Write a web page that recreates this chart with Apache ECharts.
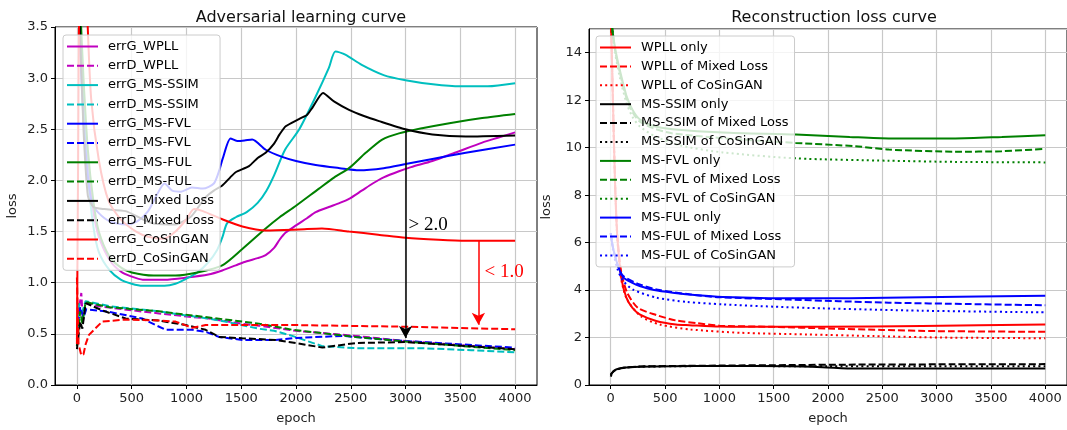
<!DOCTYPE html>
<html>
<head>
<meta charset="utf-8">
<script src="https://cdn.jsdelivr.net/npm/echarts@6/dist/echarts.min.js"></script>
<style>
  html, body { margin: 0; padding: 0; background: #fff; }
  #main { width: 1067px; height: 430px; }
</style>
</head>
<body>
<div id="main"></div>
<script>
// tick labels
var epochTicks = [0, 500, 1000, 1500, 2000, 2500, 3000, 3500, 4000];

// Adversarial learning curve  [epoch, loss]
var errG_WPLL = [[0,4.3],[25,3.6],[60,2.8],[100,2.15],[150,1.7],[200,1.45],[300,1.22],[400,1.11],[500,1.06],[600,1.03],[800,1.03],[1000,1.05],[1200,1.08],[1327,1.12],[1450,1.17],[1550,1.21],[1650,1.24],[1723,1.27],[1800,1.34],[1850,1.42],[1906,1.49],[2000,1.56],[2100,1.63],[2180,1.69],[2300,1.74],[2400,1.78],[2484,1.82],[2600,1.9],[2700,1.97],[2800,2.03],[2940,2.09],[3050,2.13],[3245,2.19],[3450,2.27],[3700,2.37],[3850,2.42],[4000,2.47]];
var errD_WPLL = [[0,0.38],[20,0.75],[40,0.9],[55,0.62],[80,0.8],[200,0.77],[500,0.73],[749,0.7],[1000,0.67],[1205,0.65],[1500,0.6],[1662,0.58],[2000,0.53],[2545,0.48],[3000,0.43],[3500,0.39],[4000,0.35]];
var errG_MS_SSIM = [[0,4.3],[25,3.6],[60,2.7],[100,2.05],[150,1.55],[200,1.3],[300,1.12],[400,1.03],[500,0.99],[600,0.97],[800,0.97],[900,0.99],[1000,1.04],[1100,1.1],[1200,1.2],[1280,1.32],[1330,1.45],[1370,1.58],[1450,1.64],[1550,1.69],[1650,1.78],[1730,1.9],[1800,2.05],[1900,2.3],[2030,2.5],[2180,2.82],[2300,3.1],[2360,3.26],[2450,3.23],[2600,3.13],[2800,3.03],[3000,2.98],[3250,2.94],[3500,2.92],[3750,2.92],[4000,2.95]];
var errD_MS_SSIM = [[0,0.45],[20,0.8],[40,0.68],[79,0.82],[300,0.77],[749,0.72],[1000,0.68],[1205,0.65],[1400,0.61],[1662,0.55],[1800,0.53],[1966,0.48],[2240,0.38],[2545,0.36],[3153,0.36],[3600,0.34],[4000,0.32]];
var errG_MS_FVL = [[0,4.6],[15,3.8],[45,2.9],[90,2.15],[137,1.78],[200,1.68],[300,1.6],[450,1.57],[550,1.6],[650,1.7],[740,1.88],[800,1.97],[870,1.9],[950,1.89],[1050,1.93],[1150,1.92],[1250,1.97],[1300,2.1],[1330,2.21],[1403,2.41],[1463,2.385],[1530,2.39],[1600,2.4],[1723,2.3],[1873,2.23],[2000,2.19],[2180,2.15],[2400,2.12],[2575,2.1],[2800,2.12],[3000,2.16],[3245,2.21],[3550,2.27],[4000,2.35]];
var errD_MS_FVL = [[0,0.5],[30,0.76],[60,0.66],[85,0.74],[292,0.716],[596,0.65],[718,0.586],[810,0.54],[1053,0.54],[1175,0.52],[1297,0.47],[1510,0.44],[1814,0.44],[2000,0.46],[2427,0.48],[2742,0.45],[3000,0.43],[4000,0.365]];
var errG_MS_FUL = [[0,4.3],[30,3.7],[60,3.0],[100,2.3],[150,1.8],[200,1.5],[300,1.25],[400,1.15],[500,1.1],[700,1.07],[900,1.07],[1100,1.1],[1327,1.17],[1510,1.33],[1723,1.53],[1850,1.64],[1997,1.75],[2210,1.92],[2350,2.03],[2484,2.12],[2636,2.27],[2787,2.4],[2940,2.46],[3150,2.51],[3400,2.56],[3700,2.61],[4000,2.65]];
var errD_MS_FUL = [[0,0.38],[30,0.72],[50,0.6],[79,0.81],[300,0.76],[749,0.72],[1205,0.66],[1662,0.6],[1966,0.54],[2545,0.47],[3000,0.425],[4000,0.34]];
var errG_Mixed = [[0,4.3],[30,3.4],[60,2.5],[100,1.85],[150,1.74],[250,1.72],[445,1.7],[600,1.62],[700,1.58],[900,1.57],[1045,1.65],[1170,1.83],[1250,1.9],[1327,1.95],[1400,2.03],[1449,2.08],[1571,2.14],[1650,2.22],[1723,2.27],[1800,2.36],[1850,2.45],[1906,2.53],[2027,2.6],[2100,2.64],[2149,2.71],[2246,2.855],[2350,2.77],[2484,2.69],[2620,2.63],[2758,2.58],[3000,2.5],[3245,2.45],[3550,2.43],[4000,2.44]];
var errD_Mixed = [[0,0.35],[30,0.62],[50,0.55],[80,0.8],[231,0.73],[445,0.65],[749,0.63],[993,0.586],[1175,0.54],[1297,0.47],[1510,0.457],[1814,0.44],[1997,0.41],[2240,0.366],[2545,0.41],[3000,0.42],[4000,0.35]];
var errG_CoSinGAN = [[0,0.4],[10,2.0],[25,4.0],[60,4.5],[95,3.6],[130,2.8],[200,2.2],[289,1.8],[400,1.62],[541,1.5],[650,1.45],[792,1.43],[900,1.5],[1000,1.62],[1070,1.72],[1150,1.7],[1327,1.62],[1510,1.55],[1723,1.51],[2027,1.52],[2237,1.53],[2484,1.5],[2750,1.47],[3000,1.44],[3300,1.42],[3550,1.41],[4000,1.41]];
var errD_CoSinGAN = [[0,1.05],[15,0.4],[40,0.29],[60,0.3],[80,0.4],[110,0.49],[231,0.62],[445,0.64],[749,0.63],[901,0.62],[1000,0.58],[1053,0.56],[1100,0.57],[1175,0.586],[2000,0.586],[3000,0.57],[4000,0.545]];

// annotations: arrow [epoch, from, to], text [epoch, loss]
var arrowMixed = [3000, 2.5, 0.46];
var arrowCoSin = [3665, 1.41, 0.59];
var textMixed = [3032, 1.56];
var textCoSin = [3726, 1.1];

// Reconstruction loss curve
var WPLL_only = [[0,16],[20,12],[40,8.5],[60,6.3],[98,4.5],[144,3.68],[200,3.25],[266,2.98],[419,2.7],[600,2.55],[725,2.52],[1000,2.46],[1336,2.45],[1948,2.45],[2865,2.49],[4000,2.55]];
var WPLL_mixed = [[0,16],[20,12],[40,8.5],[60,6.4],[95,4.8],[150,3.9],[250,3.25],[419,2.95],[600,2.72],[800,2.6],[1000,2.5],[1500,2.45],[2000,2.38],[2500,2.32],[3000,2.27],[4000,2.24]];
var WPLL_cosin = [[0,16],[20,12],[40,8.5],[60,6.2],[95,4.5],[150,3.6],[276,2.9],[450,2.55],[736,2.34],[1196,2.2],[1810,2.13],[2423,2.06],[3037,2.0],[4000,1.97]];
var SSIM_only = [[0,0.4],[20,0.55],[50,0.66],[113,0.73],[266,0.77],[570,0.79],[1000,0.8],[1642,0.79],[1948,0.75],[2254,0.69],[3000,0.69],[4000,0.7]];
var SSIM_mixed = [[0,0.45],[20,0.55],[50,0.64],[113,0.72],[266,0.78],[570,0.8],[1000,0.82],[1642,0.84],[2254,0.86],[3000,0.87],[4000,0.88]];
var SSIM_cosin = [[0,0.35],[30,0.6],[113,0.72],[266,0.77],[570,0.79],[1000,0.8],[2000,0.79],[3000,0.79],[4000,0.79]];
var FVL_only = [[0,16],[10,15.2],[40,14.2],[82,13.3],[144,12.2],[200,11.6],[266,11.2],[400,10.9],[570,10.78],[1030,10.64],[1704,10.55],[2200,10.45],[2560,10.39],[3172,10.39],[3600,10.45],[4000,10.52]];
var FVL_mixed = [[0,16],[10,15.2],[40,14.1],[82,13.2],[144,12.1],[200,11.5],[266,11.1],[400,10.8],[570,10.6],[1030,10.4],[1704,10.2],[2254,10.06],[2560,9.92],[3172,9.83],[3600,9.85],[4000,9.95]];
var FVL_cosin = [[0,16],[10,15.2],[40,14.0],[82,13.0],[144,11.9],[200,11.3],[266,10.9],[400,10.5],[634,10.1],[1030,9.8],[1704,9.55],[2560,9.45],[3172,9.4],[4000,9.38]];
var FUL_only = [[0,6.4],[20,5.8],[61,5.1],[113,4.55],[200,4.3],[266,4.17],[400,4.0],[570,3.89],[800,3.78],[1030,3.71],[1642,3.65],[2200,3.66],[2865,3.7],[4000,3.76]];
var FUL_mixed = [[0,6.4],[20,5.8],[61,5.1],[113,4.6],[266,4.24],[450,4.0],[725,3.82],[1000,3.7],[1642,3.6],[2100,3.53],[2560,3.47],[3300,3.41],[4000,3.36]];
var FUL_cosin = [[0,6.4],[20,5.7],[61,4.9],[113,4.4],[205,4.02],[419,3.68],[700,3.5],[1030,3.4],[1500,3.3],[1948,3.23],[2865,3.13],[4000,3.06]];

var FONT = "DejaVu Sans";
var DASH = [7, 3];
var DOT = [2, 3.2];

var leftLines = [
  ["errG_WPLL", errG_WPLL, "#bf00bf", "solid", 0.25],
  ["errD_WPLL", errD_WPLL, "#bf00bf", DASH, 0],
  ["errG_MS-SSIM", errG_MS_SSIM, "#00bfbf", "solid", 0.25],
  ["errD_MS-SSIM", errD_MS_SSIM, "#00bfbf", DASH, 0],
  ["errG_MS-FVL", errG_MS_FVL, "#0000ff", "solid", 0.25],
  ["errD_MS-FVL", errD_MS_FVL, "#0000ff", DASH, 0],
  ["errG_MS-FUL", errG_MS_FUL, "#008000", "solid", 0.25],
  ["errD_MS-FUL", errD_MS_FUL, "#008000", DASH, 0],
  ["errG_Mixed Loss", errG_Mixed, "#000000", "solid", 0.2],
  ["errD_Mixed Loss", errD_Mixed, "#000000", DASH, 0],
  ["errG_CoSinGAN", errG_CoSinGAN, "#ff0000", "solid", 0.25],
  ["errD_CoSinGAN", errD_CoSinGAN, "#ff0000", DASH, 0]
];
var rightLines = [
  ["WPLL only", WPLL_only, "#ff0000", "solid"],
  ["WPLL of Mixed Loss", WPLL_mixed, "#ff0000", DASH],
  ["WPLL of CoSinGAN", WPLL_cosin, "#ff0000", DOT],
  ["MS-SSIM only", SSIM_only, "#000000", "solid"],
  ["MS-SSIM of Mixed Loss", SSIM_mixed, "#000000", DASH],
  ["MS-SSIM of CoSinGAN", SSIM_cosin, "#000000", DOT],
  ["MS-FVL only", FVL_only, "#008000", "solid"],
  ["MS-FVL of Mixed Loss", FVL_mixed, "#008000", DASH],
  ["MS-FVL of CoSinGAN", FVL_cosin, "#008000", DOT],
  ["MS-FUL only", FUL_only, "#0000ff", "solid"],
  ["MS-FUL of Mixed Loss", FUL_mixed, "#0000ff", DASH],
  ["MS-FUL of CoSinGAN", FUL_cosin, "#0000ff", DOT]
];

function lineSeries(item, idx, smooth) {
  return {
    name: item[0],
    type: "line",
    xAxisIndex: idx,
    yAxisIndex: idx,
    data: item[1],
    showSymbol: false,
    symbol: "none",
    smooth: smooth,
    clip: true,
    lineStyle: { color: item[2], width: 2, type: item[3] },
    itemStyle: { color: item[2] },
    emphasis: { disabled: true }
  };
}

var series = [];
leftLines.forEach(function (l) { series.push(lineSeries(l, 0, l[4])); });
rightLines.forEach(function (l) { series.push(lineSeries(l, 1, 0.25)); });

// annotation layer
series.push({
  name: "annot",
  type: "line",
  xAxisIndex: 0,
  yAxisIndex: 0,
  data: [],
  silent: true,
  markLine: {
    silent: true,
    symbol: ["none", "arrow"],
    symbolSize: [10, 12],
    label: { show: false },
    data: [
      [{ coord: [arrowMixed[0], arrowMixed[1]], lineStyle: { color: "#000", width: 1.5, type: "solid" } },
       { coord: [arrowMixed[0], arrowMixed[2]] }],
      [{ coord: [arrowCoSin[0], arrowCoSin[1]], lineStyle: { color: "#ff0000", width: 1.5, type: "solid" } },
       { coord: [arrowCoSin[0], arrowCoSin[2]] }]
    ]
  },
  markPoint: {
    silent: true,
    symbol: "circle",
    symbolSize: 1,
    itemStyle: { color: "rgba(0,0,0,0)" },
    label: {
      show: true, position: [0, 0], align: "left", verticalAlign: "middle",
      fontFamily: "Liberation Serif", fontSize: 19
    },
    data: [
      { coord: textMixed, label: { formatter: "> 2.0", color: "#000" } },
      { coord: textCoSin, label: { formatter: "< 1.0", color: "#ff0000" } }
    ]
  }
});

function xAxis(idx) {
  return {
    type: "value", gridIndex: idx, min: -200, max: 4200,
    name: "epoch", nameLocation: "middle", nameGap: 27,
    nameTextStyle: { fontFamily: FONT, fontSize: 13, color: "#222" },
    axisLine: { onZero: false, lineStyle: { color: "#000", width: 1 } },
    axisTick: { show: true, length: 4, customValues: epochTicks, lineStyle: { color: "#000" } },
    axisLabel: { customValues: epochTicks, fontFamily: FONT, fontSize: 13, color: "#222", margin: 7,
      formatter: function (v) { return String(v); } },
    splitLine: { show: true, lineStyle: { color: "#c8c8c8", width: 1.2 } }
  };
}
function yAxis(idx, max, interval, fmt) {
  return {
    type: "value", gridIndex: idx, min: 0, max: max, interval: interval,
    name: "loss", nameLocation: "middle", nameGap: 36,
    nameTextStyle: { fontFamily: FONT, fontSize: 13, color: "#222" },
    axisLine: { show: true, onZero: false, lineStyle: { color: "#000", width: 1 } },
    axisTick: { show: true, length: 4, lineStyle: { color: "#000" } },
    axisLabel: { fontFamily: FONT, fontSize: 13, color: "#222", margin: 7, showMaxLabel: fmt ? true : false,
      formatter: fmt || function (v) { return String(v); } },
    splitLine: { show: true, lineStyle: { color: "#c8c8c8", width: 1.2 } }
  };
}
function legend(names, left, top, gap) {
  return {
    data: names, orient: "vertical", left: left, top: top,
    itemWidth: 31, itemHeight: 14, itemGap: gap,
    padding: [5, 6, 5, 3],
    backgroundColor: "rgba(255,255,255,0.8)",
    borderColor: "#cccccc", borderWidth: 1, borderRadius: 3,
    selectedMode: false,
    itemStyle: { opacity: 0 },
    textStyle: { fontFamily: FONT, fontSize: 13, color: "#000", padding: [0, 0, 0, 5] }
  };
}

var chart = echarts.init(document.getElementById("main"), null, { renderer: "canvas" });
chart.setOption({
  animation: false,
  backgroundColor: "#fff",
  title: [
    { text: "Adversarial learning curve", left: 296, top: 5, textAlign: "center",
      textStyle: { fontFamily: FONT, fontSize: 16, fontWeight: "normal", color: "#111" } },
    { text: "Reconstruction loss curve", left: 829, top: 5, textAlign: "center",
      textStyle: { fontFamily: FONT, fontSize: 16, fontWeight: "normal", color: "#111" } }
  ],
  grid: [
    { left: 55, top: 27, width: 482, height: 360, show: true, borderColor: "#000", borderWidth: 1, backgroundColor: "transparent" },
    { left: 589, top: 29, width: 480, height: 359, show: true, borderColor: "#000", borderWidth: 1, backgroundColor: "transparent" }
  ],
  xAxis: [xAxis(0), xAxis(1)],
  yAxis: [
    yAxis(0, 3.5, 0.5, function (v) { return v.toFixed(1); }),
    yAxis(1, 15, 2, null)
  ],
  legend: [
    legend(leftLines.map(function (l) { return l[0]; }), 63, 35, 6.3),
    legend(rightLines.map(function (l) { return l[0]; }), 596, 36, 5.9)
  ],
  series: series
});
</script>
</body>
</html>
